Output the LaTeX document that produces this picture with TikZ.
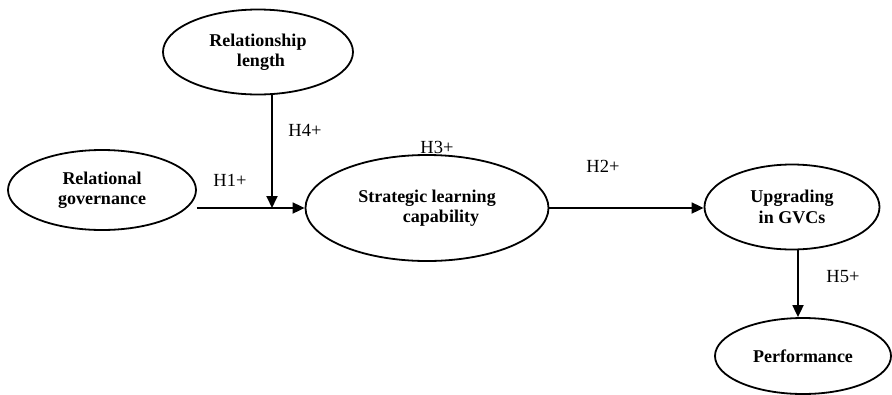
\documentclass[tikz,border=0pt]{standalone}
\usepackage{fontspec}
\setmainfont{Liberation Serif}
\usetikzlibrary{shapes.geometric,arrows.meta}
\begin{document}
\begin{tikzpicture}[x=1pt,y=-1pt,
  ell/.style={ellipse,draw,line width=1.8pt,inner sep=0pt,align=center,font=\fontsize{18}{20.5}\selectfont\bfseries},
  conn/.style={line width=1.8pt,-{Triangle[length=12pt,width=11pt]}},
  hlab/.style={font=\fontsize{18.5}{20}\selectfont,inner sep=0pt}]
\useasboundingbox (0,0) rectangle (892,394);
\node[ell,minimum width=190pt,minimum height=85pt] (rl) at (258,52) {Relationship\\\hspace*{6pt}length};
\node[ell,minimum width=188pt,minimum height=80pt] (rg) at (102,190) {Relational\\governance};
\node[ell,minimum width=243pt,minimum height=106pt] (slc) at (427,208) {Strategic learning\\\hspace*{28pt}capability};
\node[ell,minimum width=175pt,minimum height=85pt] (up) at (792,207) {Upgrading\\in GVCs};
\node[ell,minimum width=176pt,minimum height=76pt] (perf) at (803,356) {Performance};
\coordinate (mod) at (272,208);
\draw[conn] (rg.east |- 0,208) -- (slc.west |- 0,208);
\draw[conn] (rl.south -| mod) -- (mod);
\draw[conn] (slc.east |- 0,208) -- (up.west |- 0,208);
\draw[conn] (up.south -| 798,0) -- (perf.north -| 798,0);
\node[hlab] (h4) at (305,130) {H4+};
\node[hlab] (h1) at (230,180) {H1+};
\node[hlab] (h3) at (437,147) {H3+};
\node[hlab] (h2) at (603,166) {H2+};
\node[hlab] (h5) at (843,277) {H5+};
\end{tikzpicture}
\end{document}
